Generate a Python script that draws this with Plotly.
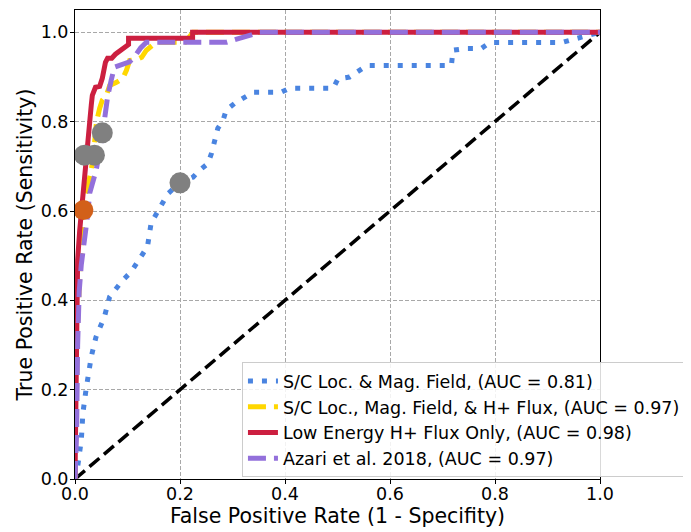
import plotly.graph_objects as go

# ---- data ----
blue_fpr = [0, 0.005, 0.012, 0.015, 0.021, 0.024, 0.031, 0.04, 0.056, 0.066,
            0.091, 0.107, 0.126, 0.138, 0.145, 0.167, 0.177, 0.2, 0.225, 0.237,
            0.253, 0.26, 0.266, 0.272, 0.282, 0.288, 0.304, 0.32, 0.339, 0.393,
            0.409, 0.492, 0.501, 0.523, 0.539, 0.556, 0.717, 0.72, 0.746, 0.774,
            0.79, 0.927, 0.948, 1.0]
blue_tpr = [0, 0.027, 0.087, 0.147, 0.2, 0.229, 0.274, 0.318, 0.363, 0.408,
            0.445, 0.464, 0.501, 0.52, 0.573, 0.617, 0.639, 0.663, 0.676, 0.691,
            0.706, 0.729, 0.758, 0.785, 0.803, 0.826, 0.841, 0.852, 0.866, 0.866,
            0.875, 0.875, 0.896, 0.9, 0.913, 0.926, 0.926, 0.96, 0.964, 0.964,
            0.977, 0.977, 0.984, 1.0]

gold_fpr = [0, 0.002, 0.005, 0.01, 0.014, 0.018, 0.025, 0.031, 0.037, 0.041,
            0.047, 0.052, 0.06, 0.066, 0.079, 0.091, 0.098, 0.104, 0.12, 0.127,
            0.136, 0.145, 0.155, 0.21, 0.225, 1.0]
gold_tpr = [0, 0.15, 0.35, 0.48, 0.55, 0.63, 0.66, 0.69, 0.75, 0.80,
            0.83, 0.848, 0.86, 0.881, 0.888, 0.897, 0.915, 0.937, 0.94, 0.944,
            0.96, 0.97, 0.978, 0.978, 1.0, 1.0]

red_fpr = [0, 0.001, 0.003, 0.005, 0.009, 0.012, 0.016, 0.02, 0.024, 0.028,
           0.031, 0.033, 0.039, 0.047, 0.052, 0.058, 0.062, 0.07, 0.077, 0.087,
           0.094, 0.102, 0.102, 0.224, 0.224, 1.0]
red_tpr = [0, 0.087, 0.40, 0.49, 0.557, 0.60, 0.658, 0.70, 0.747, 0.799,
           0.837, 0.859, 0.877, 0.879, 0.897, 0.933, 0.942, 0.942, 0.951, 0.96,
           0.969, 0.973, 0.987, 0.987, 1.0, 1.0]

purple_fpr = [0, 0.003, 0.005, 0.008, 0.012, 0.018, 0.024, 0.028, 0.04, 0.05,
              0.056, 0.062, 0.069, 0.075, 0.104, 0.113, 0.125, 0.136, 0.289, 0.352, 1.0]
purple_tpr = [0, 0.1, 0.3, 0.42, 0.48, 0.53, 0.59, 0.64, 0.69, 0.75,
              0.80, 0.855, 0.893, 0.922, 0.934, 0.945, 0.965, 0.978, 0.978, 1.0, 1.0]

diag_x = [0, 1]
diag_y = [0, 1]

gray_x = [0.2, 0.052, 0.018, 0.037]
gray_y = [0.663, 0.775, 0.725, 0.725]
orange_x = [0.016]
orange_y = [0.602]

names = ["S/C Loc. & Mag. Field, (AUC = 0.81)",
         "S/C Loc., Mag. Field, & H+ Flux, (AUC = 0.97)",
         "Low Energy H+ Flux Only, (AUC = 0.98)",
         "Azari et al. 2018, (AUC = 0.97)"]

FONT = "DejaVu Sans"

fig = go.Figure()
fig.add_trace(go.Scatter(x=diag_x, y=diag_y, mode="lines", showlegend=False,
                         line=dict(color="black", width=3.5, dash="13px,6px")))
fig.add_trace(go.Scatter(x=blue_fpr, y=blue_tpr, mode="lines", name=names[0],
                         line=dict(color="#4A84E0", width=5, dash="5px,9px")))
fig.add_trace(go.Scatter(x=gold_fpr, y=gold_tpr, mode="lines", name=names[1],
                         line=dict(color="#FFD700", width=5, dash="18px,8px")))
fig.add_trace(go.Scatter(x=red_fpr, y=red_tpr, mode="lines", name=names[2],
                         line=dict(color="#CC1F40", width=5)))
fig.add_trace(go.Scatter(x=purple_fpr, y=purple_tpr, mode="lines", name=names[3],
                         line=dict(color="#9370DB", width=5, dash="18px,8px")))
fig.add_trace(go.Scatter(x=gray_x, y=gray_y, mode="markers", showlegend=False,
                         marker=dict(color="#808080", size=21, line=dict(width=0))))
fig.add_trace(go.Scatter(x=orange_x, y=orange_y, mode="markers", showlegend=False,
                         marker=dict(color="#D2601A", size=20, line=dict(width=0))))

axis_common = dict(
    showline=True, linecolor="black", linewidth=1, mirror=True,
    ticks="outside", ticklen=4, tickwidth=1, tickcolor="black",
    showgrid=True, gridcolor="#A8A8A8", gridwidth=1, griddash="4px,2px",
    zeroline=False, tickformat=".1f", tick0=0, dtick=0.2, automargin=False,
    tickfont=dict(family=FONT, size=17.5, color="black"),
)

fig.update_xaxes(range=[0, 1], ticklabelstandoff=-5,
                 title=dict(text="False Positive Rate (1 - Specifity)",
                            font=dict(family=FONT, size=20.5, color="black"), standoff=0),
                 **axis_common)
fig.update_yaxes(range=[0, 1.05], ticklabelstandoff=-2,
                 title=dict(text="True Positive Rate (Sensitivity)",
                            font=dict(family=FONT, size=20.5, color="black"), standoff=2),
                 **axis_common)

# page body has an 8px margin: figure is shifted by 8px, so size/margins compensate
fig.update_layout(
    width=683, height=524,
    margin=dict(l=67, r=91, t=2, b=53, autoexpand=False),
    paper_bgcolor="white", plot_bgcolor="white",
    font=dict(family=FONT, color="black"),
    legend=dict(x=0.318, y=0.004, xanchor="left", yanchor="bottom",
                bgcolor="rgba(255,255,255,0.85)", bordercolor="#CCCCCC", borderwidth=1,
                font=dict(family=FONT, size=17.5, color="black"),
                tracegroupgap=0, itemwidth=30),
)

fig.write_html("out.html")
